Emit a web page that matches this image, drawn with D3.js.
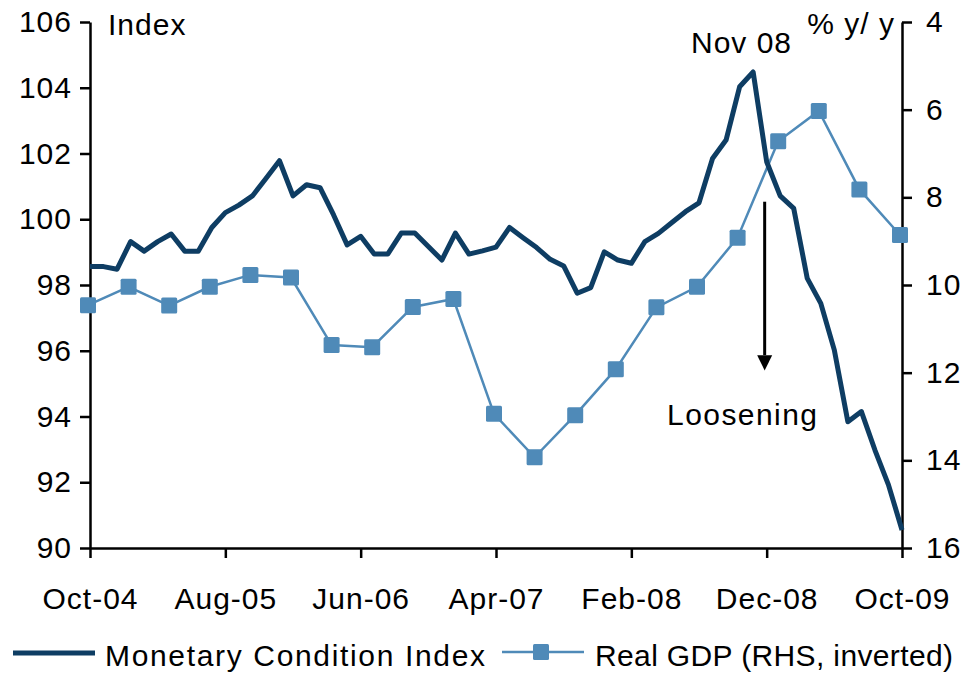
<!DOCTYPE html>
<html>
<head>
<meta charset="utf-8">
<script src="https://cdn.jsdelivr.net/npm/d3@7/dist/d3.min.js"></script>
<style>
  body { margin: 0; background: #fff; }
  svg { display: block; font-family: "Liberation Sans", Arial, sans-serif; }
</style>
</head>
<body>
<div id="chart"></div>
<script>
// monthly Monetary Condition Index, Oct-04 .. Oct-09
var mciValues = [
    98.56, 98.56, 98.48, 99.32, 99.03, 99.32, 99.55, 99.03, 99.03, 99.75,
    100.2, 100.43, 100.71, 101.24, 101.78, 100.71, 101.05, 100.96, 100.13, 99.22,
    99.48, 98.94, 98.94, 99.58, 99.58, 99.17, 98.76, 99.58, 98.94, 99.04,
    99.15, 99.75, 99.44, 99.14, 98.78, 98.58, 97.75, 97.92, 99.01, 98.76,
    98.66, 99.32, 99.57, 99.9, 100.23, 100.5, 101.85, 102.41, 104.03, 104.48,
    101.75, 100.71, 100.33, 98.2, 97.44, 96.02, 93.84, 94.15, 92.98, 91.92,
    90.55
];

// quarterly real GDP % y/y (right axis, inverted)
var gdpMonths = ["Oct-04", "Jan-05", "Apr-05", "Jul-05", "Oct-05", "Jan-06", "Apr-06",
    "Jul-06", "Oct-06", "Jan-07", "Apr-07", "Jul-07", "Oct-07", "Jan-08", "Apr-08",
    "Jul-08", "Oct-08", "Jan-09", "Apr-09", "Jul-09", "Oct-09"];
var gdpValues = [10.46, 10.04, 10.47, 10.04, 9.77, 9.83, 11.37, 11.42, 10.5, 10.32,
    12.94, 13.93, 12.97, 11.92, 10.51, 10.04, 8.92, 6.72, 6.03, 7.82, 8.86];

var xTickLabels = ["Oct-04", "Aug-05", "Jun-06", "Apr-07", "Feb-08", "Dec-08", "Oct-09"];
var leftTicks = [90, 92, 94, 96, 98, 100, 102, 104, 106];
var rightTicks = [4, 6, 8, 10, 12, 14, 16];

var width = 965, height = 674;
var margin = {top: 22, right: 63, bottom: 126, left: 90};
var navy = "#0e3d63", blue = "#4f8ab8";
var fontSize = 30;

var fmtMonth = d3.utcFormat("%b-%y");
var months = d3.utcMonth.range(new Date(Date.UTC(2004, 9, 1)), new Date(Date.UTC(2009, 10, 1))).map(fmtMonth);

var x = d3.scalePoint()
    .domain(months)
    .range([margin.left, width - margin.right]);

var yL = d3.scaleLinear([90, 106], [height - margin.bottom, margin.top]);
var yR = d3.scaleLinear([4, 16], [margin.top, height - margin.bottom]);

var svg = d3.select("#chart").append("svg")
    .attr("width", width)
    .attr("height", height)
    .attr("viewBox", [0, 0, width, height]);

function styleAxis(g) {
    g.selectAll(".domain").attr("stroke", "#000").attr("stroke-width", 2.5);
    g.selectAll(".tick line").attr("stroke", "#000").attr("stroke-width", 2.5);
    g.selectAll(".tick text")
        .attr("fill", "#000")
        .style("font-size", fontSize + "px")
        .style("letter-spacing", "1px");
}

// axes
svg.append("g")
    .attr("transform", `translate(${margin.left},0)`)
    .call(d3.axisLeft(yL).tickValues(leftTicks).tickSize(10).tickPadding(8).tickSizeOuter(0))
    .call(styleAxis);

svg.append("g")
    .attr("transform", `translate(${width - margin.right},0)`)
    .call(d3.axisRight(yR).tickValues(rightTicks).tickSize(10).tickPadding(14).tickSizeOuter(0))
    .call(styleAxis);

svg.append("g")
    .attr("transform", `translate(0,${height - margin.bottom})`)
    .call(d3.axisBottom(x).tickValues(xTickLabels).tickSize(10).tickPadding(30).tickSizeOuter(0))
    .call(styleAxis);

// real GDP line + square markers
var gdp = gdpMonths.map((m, i) => ({m: m, v: gdpValues[i]}));

svg.append("path")
    .datum(gdp)
    .attr("fill", "none")
    .attr("stroke", blue)
    .attr("stroke-width", 2.5)
    .attr("d", d3.line().x(d => x(d.m) - 2).y(d => yR(d.v)));

svg.append("g")
    .selectAll("rect")
    .data(gdp)
    .join("rect")
    .attr("x", d => x(d.m) - 2 - 8)
    .attr("y", d => yR(d.v) - 8)
    .attr("width", 16)
    .attr("height", 16)
    .attr("rx", 1.5)
    .attr("fill", blue);

// MCI line
svg.append("path")
    .datum(mciValues)
    .attr("fill", "none")
    .attr("stroke", navy)
    .attr("stroke-width", 5)
    .attr("stroke-linejoin", "round")
    .attr("d", d3.line().x((d, i) => x(months[i])).y(d => yL(d)));

// annotations
function label(txt, px, py, anchor, len) {
    var t = svg.append("text")
        .attr("x", px)
        .attr("y", py)
        .attr("text-anchor", anchor || "start")
        .style("font-size", fontSize + "px")
        .style("letter-spacing", len ? null : "1px")
        .text(txt);
    if (len) t.attr("textLength", len).attr("lengthAdjust", "spacing");
    return t;
}

label("Index", 108, 35);
label("% y/ y", 895, 34, "end");
label("Nov 08", 691, 53);
label("Loosening", 667, 425, "start", 150);

var ax = x("Dec-08") - 2;
svg.append("line")
    .attr("x1", ax).attr("x2", ax)
    .attr("y1", yR(8.1)).attr("y2", yR(11.6))
    .attr("stroke", "#000")
    .attr("stroke-width", 3);
svg.append("path")
    .attr("d", `M${ax - 7.5},${yR(11.6)}L${ax + 7.5},${yR(11.6)}L${ax},${yR(11.95)}Z`)
    .attr("fill", "#000");

// legend
var legend = svg.append("g");
legend.append("line")
    .attr("x1", 13).attr("x2", 95)
    .attr("y1", 653).attr("y2", 653)
    .attr("stroke", navy).attr("stroke-width", 5);
legend.append("line")
    .attr("x1", 502).attr("x2", 584)
    .attr("y1", 652).attr("y2", 652)
    .attr("stroke", blue).attr("stroke-width", 2.5);
legend.append("rect")
    .attr("x", 541 - 8).attr("y", 652 - 8)
    .attr("width", 16).attr("height", 16)
    .attr("rx", 1.5)
    .attr("fill", blue);

label("Monetary Condition Index", 105, 666, "start", 380);
label("Real GDP (RHS, inverted)", 595, 666, "start", 358);
</script>
</body>
</html>
